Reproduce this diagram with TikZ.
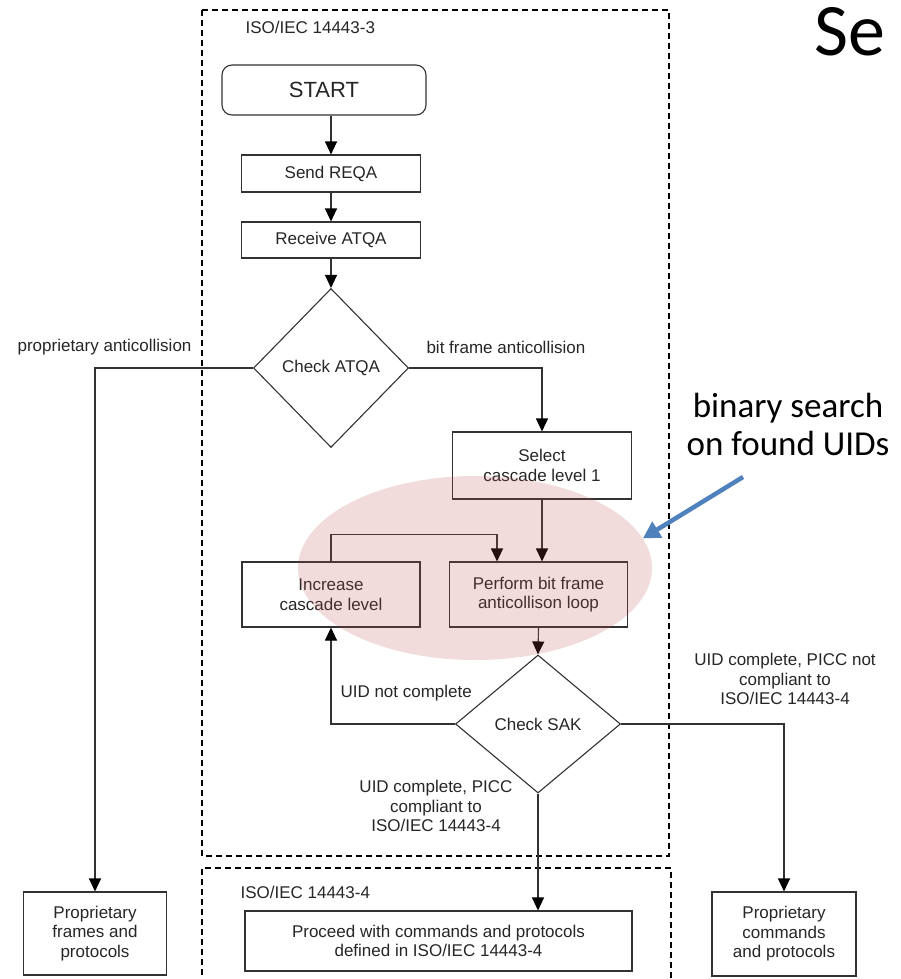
\documentclass[tikz,border=0pt]{standalone}
\usepackage{fontspec}
\setmainfont{Liberation Sans}
\newfontfamily\notefont{Carlito}
\usetikzlibrary{shapes.geometric,arrows.meta,positioning}

\definecolor{flowline}{RGB}{50,50,50}
\definecolor{hilite}{RGB}{192,80,77}
\definecolor{pointer}{RGB}{79,129,189}

\begin{document}
\begin{tikzpicture}[
    x=1pt, y=-1pt,
    >={Triangle[length=13pt,width=12pt,color=black]},
    every node/.style={font=\fontsize{17}{19.5}\selectfont, text=black!85},
    flow/.style={draw=flowline, line width=1.1pt},
    stepbox/.style={flow, rectangle, inner sep=0pt, align=center},
    decision/.style={flow, diamond, inner sep=0pt, align=center},
    region/.style={draw=black, line width=1.1pt, dash pattern=on 6pt off 4pt}
]
\useasboundingbox (0,0) rectangle (900,979);

% ---------------- Regions ----------------
\draw[region] (202,10) rectangle (669,856);
\draw[region] (202,995) -- (202,868) -- (671,868) -- (671,995);
\node[anchor=west] (iso3) at (242,27) {ISO/IEC 14443-3};
\node[anchor=west] (iso4) at (237,892) {ISO/IEC 14443-4};

% ---------------- Steps ----------------
\node[stepbox, rounded corners=10pt, minimum width=204pt, minimum height=50pt,
      font=\fontsize{22}{24}\selectfont] (start) at (324,90) {START};
\node[stepbox, minimum width=179pt, minimum height=37pt] (reqa) at (331,173.5) {Send REQA};
\node[stepbox, minimum width=179pt, minimum height=36pt] (atqa) at (331,240) {Receive ATQA};
\node[decision, minimum width=155pt, minimum height=159pt] (chkatqa) at (331,368) {Check ATQA};
\node[stepbox, minimum width=179pt, minimum height=67pt] (sel) at (542,465.5) {Select\\cascade level 1};
\node[stepbox, minimum width=178pt, minimum height=65pt] (perf) at (538.5,594.5) {Perform bit frame\\anticollison loop};
\node[stepbox, minimum width=178pt, minimum height=65pt] (incr) at (331,594.5) {Increase\\cascade level};
\node[decision, minimum width=165pt, minimum height=138pt] (chksak) at (538,724) {Check SAK};
\node[stepbox, minimum width=143pt, minimum height=83pt] (propf) at (95,933.5) {Proprietary\\frames and\\protocols};
\node[stepbox, minimum width=387pt, minimum height=60pt] (proceed) at (438.5,941) {Proceed with commands and protocols\\defined in ISO/IEC 14443-4};
\node[stepbox, minimum width=144pt, minimum height=84pt] (propc) at (784,934) {Proprietary\\commands\\and protocols};

% ---------------- Transitions ----------------
\draw[flow,->] (reqa.north |- start.south) -- (reqa);
\draw[flow,->] (reqa) -- (atqa);
\draw[flow,->] (atqa) -- (chkatqa);

% Check ATQA
\draw[flow,->] (chkatqa.west) -| (propf.north);
\draw[flow,->] (chkatqa.east) -| (sel.north);
\node[anchor=east] (lblprop) at (195,347) {proprietary anticollision};
\node[anchor=west] (lblbit) at (423,347) {bit frame anticollision};

% anticollision loop
\draw[flow,->] (sel.south) -- (sel.south |- perf.north);
\draw[flow,->] (incr.north) -- ++(0,-27) -| ([xshift=-41.5pt]perf.north);
\draw[flow,->] (perf.south) -- (chksak.north);

% Check SAK
\draw[flow,->] (chksak.west) -| (incr.south);
\draw[flow,->] (chksak.south) -- (chksak.south |- proceed.north);
\draw[flow,->] (chksak.east) -| (propc.north);
\node[anchor=west] (lblnc) at (337,693) {UID not complete};
\node[align=center] (lblok) at (436,806) {UID complete, PICC\\compliant to\\ISO/IEC 14443-4};
\node[align=center] (lblnok) at (785,679) {UID complete, PICC not\\compliant to\\ISO/IEC 14443-4};

% ---------------- Highlight ----------------
\node[ellipse, fill=hilite, fill opacity=0.2, minimum width=354pt, minimum height=184pt] (loopzone) at (475,568) {};
\node[font=\notefont\fontsize{35}{38}\selectfont, text=black, align=center] (note) at (788,424) {binary search\\on found UIDs};
\coordinate (ptrfrom) at (743,477);
\draw[pointer, line width=4.5pt, -{Triangle[length=17pt,width=18pt]}] (ptrfrom) -- (loopzone.10);
\node[font=\notefont\fontsize{74}{74}\selectfont, text=black, anchor=base west, inner sep=0pt] (title) at (814,56) {Se};

\end{tikzpicture}
\end{document}
